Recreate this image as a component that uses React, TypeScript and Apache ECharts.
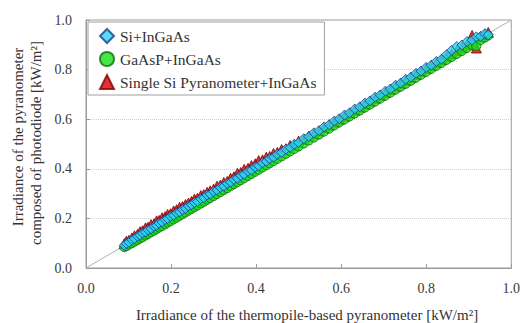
import React, { useEffect, useRef } from "react";
import * as echarts from "echarts";

const thermopileX = [
  0.090, 0.095, 0.101, 0.108, 0.114, 0.121, 0.127, 0.133, 0.140, 0.146,
  0.153, 0.160, 0.166, 0.172, 0.179, 0.186, 0.192, 0.199, 0.206, 0.213,
  0.220, 0.227, 0.234, 0.241, 0.248, 0.255, 0.262, 0.270, 0.277, 0.285,
  0.292, 0.300, 0.308, 0.316, 0.324, 0.332, 0.340, 0.348, 0.356, 0.364,
  0.372, 0.381, 0.389, 0.398, 0.406, 0.415, 0.424, 0.432, 0.441, 0.450,
  0.460, 0.470, 0.480, 0.490, 0.500, 0.512, 0.524, 0.536, 0.548, 0.560,
  0.572, 0.584, 0.596, 0.608, 0.620, 0.632, 0.644, 0.656, 0.668, 0.680,
  0.692, 0.704, 0.716, 0.728, 0.740, 0.752, 0.764, 0.776, 0.788, 0.800,
  0.812, 0.824, 0.836, 0.848, 0.860, 0.872, 0.884, 0.896, 0.908, 0.918,
  0.928, 0.938, 0.946,
];

const siInGaAs = [
  0.091, 0.099, 0.104, 0.114, 0.118, 0.128, 0.132, 0.141, 0.145, 0.154,
  0.158, 0.168, 0.172, 0.181, 0.185, 0.195, 0.199, 0.208, 0.212, 0.222,
  0.226, 0.236, 0.240, 0.250, 0.255, 0.264, 0.268, 0.279, 0.283, 0.294,
  0.298, 0.309, 0.314, 0.325, 0.330, 0.341, 0.346, 0.357, 0.362, 0.373,
  0.378, 0.390, 0.395, 0.407, 0.412, 0.424, 0.430, 0.441, 0.447, 0.459,
  0.466, 0.479, 0.486, 0.499, 0.506, 0.521, 0.530, 0.545, 0.554, 0.569,
  0.578, 0.593, 0.602, 0.617, 0.626, 0.641, 0.650, 0.665, 0.674, 0.689,
  0.698, 0.713, 0.722, 0.737, 0.746, 0.761, 0.770, 0.785, 0.794, 0.809,
  0.818, 0.833, 0.842, 0.860, 0.878, 0.893, 0.899, 0.913, 0.919, 0.932,
  0.934, 0.945, 0.940,
];

const gaAsPInGaAs = [
  0.084, 0.088, 0.094, 0.100, 0.106, 0.112, 0.119, 0.124, 0.131, 0.137,
  0.144, 0.150, 0.157, 0.163, 0.169, 0.176, 0.183, 0.189, 0.196, 0.203,
  0.210, 0.217, 0.224, 0.231, 0.238, 0.245, 0.252, 0.260, 0.267, 0.275,
  0.282, 0.290, 0.298, 0.306, 0.314, 0.322, 0.330, 0.338, 0.346, 0.354,
  0.362, 0.371, 0.379, 0.388, 0.396, 0.405, 0.414, 0.422, 0.431, 0.440,
  0.450, 0.460, 0.470, 0.480, 0.490, 0.502, 0.514, 0.526, 0.538, 0.550,
  0.562, 0.575, 0.587, 0.599, 0.611, 0.623, 0.635, 0.647, 0.659, 0.671,
  0.683, 0.695, 0.707, 0.719, 0.731, 0.743, 0.755, 0.767, 0.779, 0.791,
  0.803, 0.815, 0.827, 0.839, 0.851, 0.863, 0.875, 0.887, 0.899, 0.895,
  0.919, 0.929, 0.937,
];

const singleSiInGaAs = [
  0.098, 0.108, 0.112, 0.121, 0.130, 0.135, 0.146, 0.150, 0.162, 0.164,
  0.175, 0.178, 0.190, 0.192, 0.203, 0.207, 0.216, 0.219, 0.230, 0.235,
  0.245, 0.248, 0.256, 0.262, 0.268, 0.278, 0.281, 0.292, 0.296, 0.305,
  0.311, 0.318, 0.330, 0.334, 0.345, 0.349, 0.362, 0.368, 0.382, 0.385,
  0.398, 0.402, 0.413, 0.420, 0.433, 0.436, 0.447, 0.450, 0.462, 0.466,
  0.478, 0.481, 0.494, 0.498, 0.512, 0.518, 0.532, 0.541, 0.552, 0.565,
  0.576, 0.588, 0.600, 0.612, 0.624, 0.636, 0.648, 0.660, 0.672, 0.684,
  0.696, 0.708, 0.720, 0.732, 0.744, 0.756, 0.768, 0.780, 0.792, 0.804,
  0.816, 0.828, 0.840, 0.852, 0.864, 0.876, 0.888, 0.900, 0.938, 0.887,
  0.932, 0.942, 0.950,
];

const axisTicks = [0, 0.2, 0.4, 0.6, 0.8, 1.0];

const pair = (ys: number[]) => thermopileX.map((x, i) => [x, ys[i]]);

const serif = "Liberation Serif";

export default function App() {
  const ref = useRef<HTMLDivElement>(null);
  useEffect(() => {
    if (!ref.current) return;
    const chart = echarts.init(ref.current, undefined, { renderer: "svg" });
    const axisCommon = {
      type: "value" as const,
      min: axisTicks[0],
      max: axisTicks[axisTicks.length - 1],
      interval: 0.2,
      axisLine: { show: true, lineStyle: { color: "#9a9a9a", width: 1 } },
      axisTick: { show: true, inside: true, length: 4, lineStyle: { color: "#9a9a9a" } },
      axisLabel: {
        color: "#3a3a3a",
        fontFamily: serif,
        fontSize: 14,
        formatter: (v: number) => v.toFixed(1),
      },
    };
    chart.setOption({
      animation: false,
      backgroundColor: "#ffffff",
      grid: {
        left: 86,
        right: 6,
        top: 20,
        bottom: 55,
        show: true,
        borderColor: "#9a9a9a",
        borderWidth: 1,
      },
      xAxis: {
        ...axisCommon,
        axisLabel: { ...axisCommon.axisLabel, margin: 13 },
        splitLine: { show: false },
      },
      yAxis: {
        ...axisCommon,
        axisLabel: { ...axisCommon.axisLabel, margin: 14 },
        splitLine: { show: true, lineStyle: { color: "#cfcfcf", type: [1, 1], width: 1 } },
      },
      legend: {
        orient: "vertical",
        left: 88,
        top: 22,
        padding: [6, 8, 5, 11],
        itemGap: 7,
        itemWidth: 14,
        itemHeight: 14,
        backgroundColor: "#ffffff",
        borderColor: "#a0a0a0",
        borderWidth: 1,
        borderRadius: 0,
        textStyle: { fontFamily: serif, fontSize: 15.5, color: "#333333", padding: [0, 0, 0, 1] },
        data: [
          { name: "Si+InGaAs", icon: "diamond" },
          { name: "GaAsP+InGaAs", icon: "circle" },
          { name: "Single Si Pyranometer+InGaAs", icon: "triangle" },
        ],
      },
      graphic: [
        {
          type: "text",
          x: 307,
          y: 315,
          style: {
            text: "Irradiance of the thermopile-based pyranometer [kW/m²]",
            fontFamily: serif,
            fontSize: 15,
            fill: "#333333",
            textAlign: "center",
            textVerticalAlign: "middle",
          },
        },
        {
          type: "text",
          x: 18,
          y: 137,
          rotation: Math.PI / 2,
          style: {
            text: "Irradiance of the pyranometer",
            fontFamily: serif,
            fontSize: 15,
            fill: "#333333",
            textAlign: "center",
            textVerticalAlign: "middle",
          },
        },
        {
          type: "text",
          x: 36,
          y: 143,
          rotation: Math.PI / 2,
          style: {
            text: "composed of photodiode [kW/m²]",
            fontFamily: serif,
            fontSize: 15,
            fill: "#333333",
            textAlign: "center",
            textVerticalAlign: "middle",
          },
        },
      ],
      series: [
        {
          name: "Si+InGaAs",
          type: "scatter",
          symbol: "diamond",
          symbolSize: 10,
          z: 5,
          itemStyle: { color: "#2ed3f2", borderColor: "#1a3c8c", borderWidth: 1 },
          data: pair(siInGaAs),
        },
        {
          name: "GaAsP+InGaAs",
          type: "scatter",
          symbol: "circle",
          symbolSize: 9,
          z: 4,
          itemStyle: { color: "#19e019", borderColor: "#0b6e0b", borderWidth: 1 },
          data: pair(gaAsPInGaAs),
        },
        {
          name: "Single Si Pyranometer+InGaAs",
          type: "scatter",
          symbol: "triangle",
          symbolSize: 10,
          z: 3,
          itemStyle: { color: "#d40000", borderColor: "#8a0000", borderWidth: 1 },
          data: pair(singleSiInGaAs),
        },
        {
          name: "diagonal",
          type: "line",
          silent: true,
          symbol: "none",
          z: 1,
          lineStyle: { color: "#b0b0b0", width: 1 },
          data: [
            [axisTicks[0], axisTicks[0]],
            [axisTicks[axisTicks.length - 1], axisTicks[axisTicks.length - 1]],
          ],
        },
      ],
    });
    return () => chart.dispose();
  }, []);
  return <div ref={ref} style={{ width: 523, height: 323, position: "absolute", left: 0, top: 0 }} />;
}
